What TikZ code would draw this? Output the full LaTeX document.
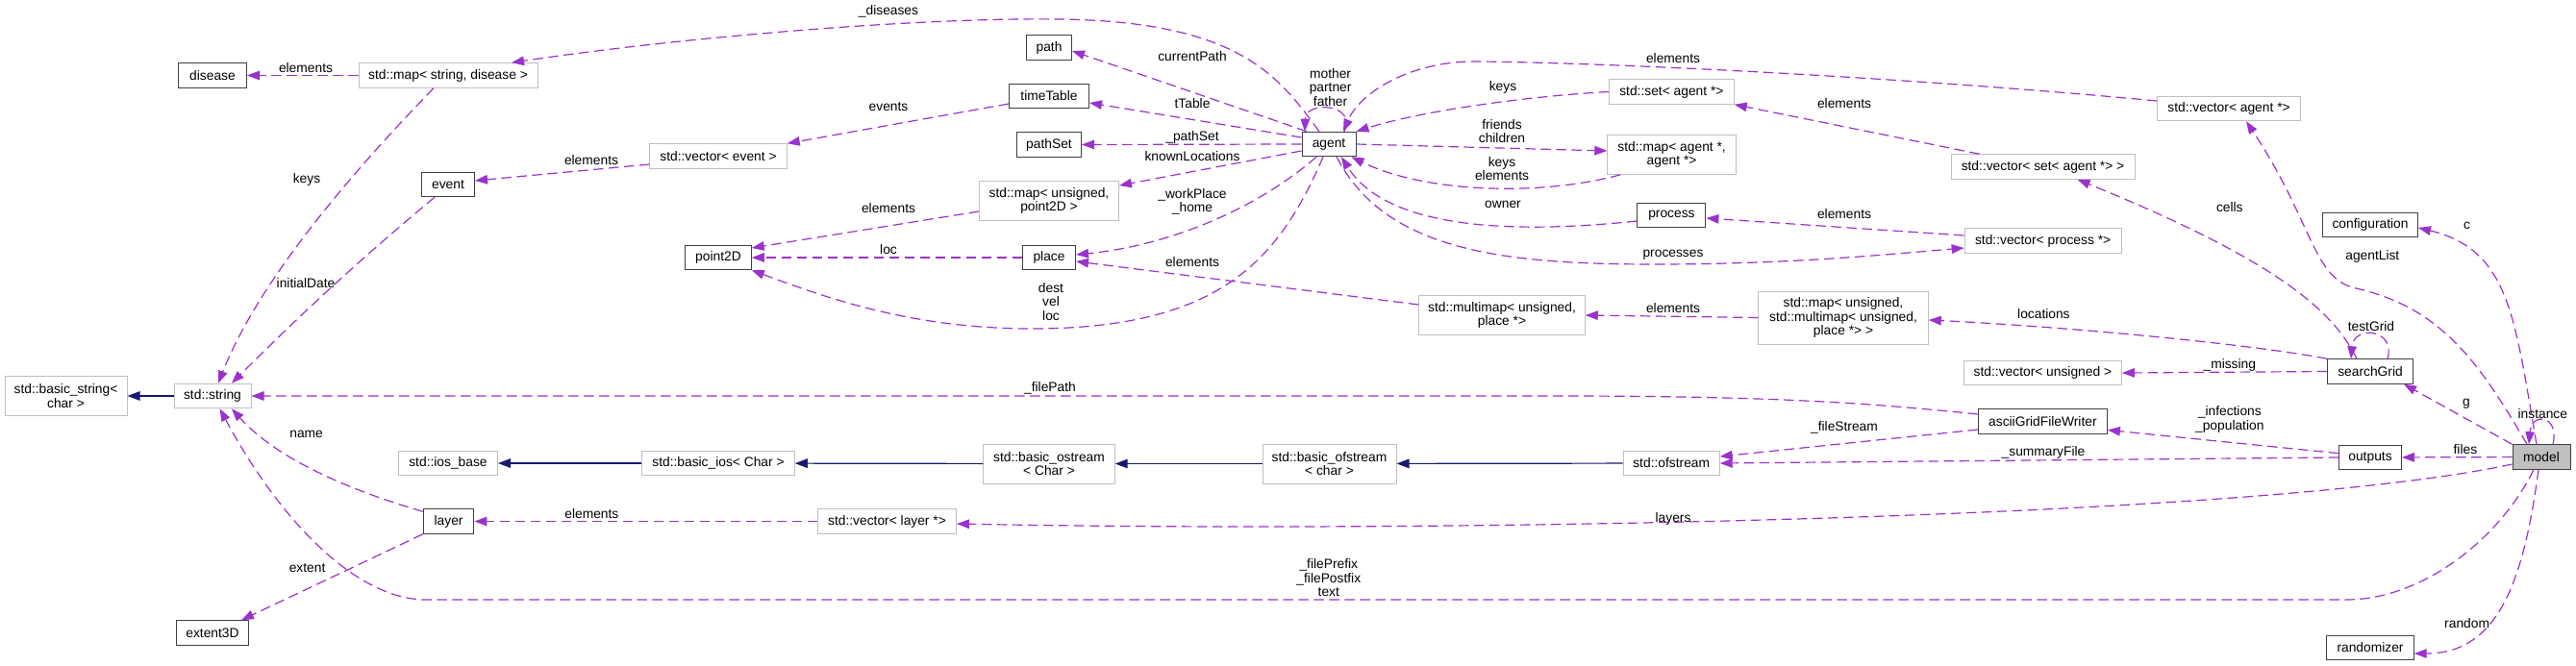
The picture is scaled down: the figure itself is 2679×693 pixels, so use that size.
\documentclass[tikz,border=0pt]{standalone}
\usepackage{fontspec}
\setmainfont{Liberation Sans}
\usetikzlibrary{arrows.meta}
\definecolor{edgepurple}{HTML}{9A32CD}
\definecolor{inhblue}{HTML}{191970}
\definecolor{boxgrey}{HTML}{BFBFBF}
\tikzset{
  box/.style={rectangle, fill=white, line width=1pt, minimum height=25.5pt, inner xsep=2pt, inner ysep=1pt, align=center, font=\fontsize{13.8}{14.5}\selectfont},
  cls/.style={box, draw=black!75},
  ext/.style={box, draw=boxgrey},
  cur/.style={cls, fill=boxgrey},
  dep/.style={draw=edgepurple, line width=1.2pt, dash pattern=on 10.5pt off 5.5pt, -{Triangle[length=13pt,width=9.5pt]}},
  inh/.style={draw=inhblue, line width=1.2pt, -{Triangle[length=13pt,width=9.5pt]}},
  lbl/.style={font=\fontsize{13.8}{14.5}\selectfont, align=center, inner sep=0pt}
}
\begin{document}
\begin{tikzpicture}[x=1pt, y=-1pt]
				\useasboundingbox (0,0) rectangle (2679,693);

				\node[cls, minimum width=71pt] (disease) at (221,78.5) {disease};
				\node[ext, minimum width=186pt] (mapSD) at (466,78.5) {std::map< string, disease >};
				\node[cls, minimum width=55pt] (event) at (466,192) {event};
				\node[ext, minimum width=127pt, minimum height=40.5pt] (basicString) at (68.5,412) {std::basic\_string<\\char >};
				\node[ext, minimum width=80pt] (string) at (221,412) {std::string};
				\node[ext, minimum width=103pt] (iosBase) at (466,482) {std::ios\_base};
				\node[cls, minimum width=52.5pt] (layer) at (466.6,542.5) {layer};
				\node[cls, minimum width=75pt] (extent) at (221,658.5) {extent3D};
				\node[cls, minimum width=47pt] (path) at (1091,49.5) {path};
				\node[cls, minimum width=83pt] (timeTable) at (1091,100) {timeTable};
				\node[cls, minimum width=67pt] (pathSet) at (1091,150.5) {pathSet};
				\node[ext, minimum width=142.5pt] (vecEvent) at (747,162.5) {std::vector< event >};
				\node[ext, minimum width=145pt, minimum height=40.5pt] (mapPoint) at (1091,209) {std::map< unsigned,\\point2D >};
				\node[cls, minimum width=68.5pt] (point) at (747,268) {point2D};
				\node[cls, minimum width=55pt] (place) at (1091,268) {place};
				\node[cls, minimum width=56pt] (agent) at (1382,150) {agent};
				\node[ext, minimum width=172.5pt, minimum height=40.5pt] (multimap) at (1562,328) {std::multimap< unsigned,\\place *>};
				\node[ext, minimum width=129.6pt] (setAgent) at (1738.4,95.5) {std::set< agent *>};
				\node[ext, minimum width=133.6pt, minimum height=40.5pt] (mapAgent) at (1738.6,161) {std::map< agent *,\\agent *>};
				\node[ext, minimum width=191pt] (vecSet) at (2124.5,173.5) {std::vector< set< agent *> >};
				\node[cls, minimum width=71pt] (process) at (1738.4,224) {process};
				\node[ext, minimum width=163pt] (vecProcess) at (2124.6,250.5) {std::vector< process *>};
				\node[ext, minimum width=176.5pt, minimum height=55pt] (mapLoc) at (1917,330.5) {std::map< unsigned,\\std::multimap< unsigned,\\place *> >};
				\node[ext, minimum width=164pt] (vecUnsigned) at (2124.4,388) {std::vector< unsigned >};
				\node[cls, minimum width=134pt] (writer) at (2124.4,438.5) {asciiGridFileWriter};
				\node[ext, minimum width=100pt] (ofstream) at (1738.2,482) {std::ofstream};
				\node[ext, minimum width=158.5pt] (basicIos) at (747,482) {std::basic\_ios< Char >};
				\node[ext, minimum width=136.4pt, minimum height=41pt] (basicOstream) at (1091,482.5) {std::basic\_ostream\\< Char >};
				\node[ext, minimum width=144pt] (vecLayer) at (922.5,542.5) {std::vector< layer *>};
				\node[ext, minimum width=139pt, minimum height=41pt] (basicOfstream) at (1382.5,482.5) {std::basic\_ofstream\\< char >};
				\node[ext, minimum width=149pt] (vecAgent) at (2318,113) {std::vector< agent *>};
				\node[cls, minimum width=99pt] (config) at (2465,234) {configuration};
				\node[cls, minimum width=89pt] (grid) at (2465,386.5) {searchGrid};
				\node[cls, minimum width=64.7pt] (outputs) at (2465,476) {outputs};
				\node[cur, minimum width=60pt] (model) at (2643,475.5) {model};
				\node[cls, minimum width=90.4pt] (random) at (2465,674) {randomizer};

				\draw[dep] (mapSD) -- (disease) node[lbl] (lbDisease) at (318,71) {elements};
				\draw[dep] ([xshift=-15pt]mapSD.south) .. controls (370,175) and (270,290) .. ([xshift=6pt]string.north) node[lbl] (lbKeys) at (319,187) {keys};
				\draw[dep] ([xshift=-14pt]event.south) .. controls (362,280) and (300,340) .. ([xshift=20pt]string.north) node[lbl] (lbDate) at (318,295) {initialDate};
				\draw[dep] ([xshift=-10pt]agent.north) .. controls (1330,80) and (1290,22) .. (1100,20) .. controls (950,18) and (700,40) .. ([xshift=66pt]mapSD.north) node[lbl] (lbDiseases) at (924,12) {\_diseases};
				\draw[dep] ([xshift=-23pt]agent.north) -- ([yshift=-3.5pt]path.east) node[lbl] (lbCurrent) at (1240,59) {currentPath};
				\draw[dep] ([yshift=7pt]agent.west) -- ([yshift=-7pt]timeTable.east) node[lbl] (lbTable) at (1240,108) {tTable};
				\draw[dep] (agent.west) -- (pathSet.east) node[lbl] (lbPathSet) at (1240,143) {\_pathSet};
				\draw[dep] ([yshift=-7pt]agent.west) -- ([yshift=16pt]mapPoint.east) node[lbl] (lbKnown) at (1240,163) {knownLocations};
				\draw[dep] ([xshift=-13pt]agent.south) .. controls (1310,215) and (1220,255) .. ([yshift=3pt]place.east) node[lbl] (lbWork) at (1240,210) {\_workPlace\\\_home};
				\draw[dep] ([xshift=-6pt]agent.south) .. controls (1330,270) and (1270,340) .. (1080,342) .. controls (950,343) and (860,310) .. (point.south east) node[lbl] (lbDest) at (1093,314) {dest\\vel\\loc};
				\draw[dep] ([xshift=16pt]agent.north) .. controls (1412,108) and (1358,104) .. ([xshift=-25pt]agent.north) node[lbl] (lbFamily) at (1383.6,91) {mother\\partner\\father};
				\draw[dep] ([yshift=-11pt]mapPoint.west) -- ([yshift=10pt]point.east) node[lbl] (lbPointElems) at (924,217) {elements};
				\draw[dep] (place) -- (point) node[lbl] (lbLoc) at (924,260) {loc};
				\draw[dep] ([yshift=-8pt]timeTable.west) -- (vecEvent.north east) node[lbl] (lbEvents) at (924,111) {events};
				\draw[dep] ([yshift=-8.5pt]vecEvent.west) -- ([yshift=4pt]event.east) node[lbl] (lbEventElems) at (615,167) {elements};
				\draw[dep] ([yshift=11pt]multimap.west) -- ([yshift=-4pt]place.east) node[lbl] (lbPlaceElems) at (1240,273) {elements};

				\draw[dep] ([yshift=8pt]vecAgent.west) .. controls (2000,82) and (1700,66) .. (1540,64) .. controls (1470,62) and (1415,95) .. ([xshift=15pt]agent.north) node[lbl] (lbAgentElems) at (1740,61) {elements};
				\draw[dep] (setAgent.west) .. controls (1590,100) and (1480,115) .. (agent.north east) node[lbl] (lbSetKeys) at (1563,91) {keys};
				\draw[dep] (agent.east) -- ([yshift=4pt]mapAgent.west) node[lbl] (lbFriends) at (1562,136.5) {friends\\children};
				\draw[dep] ([xshift=14pt]mapAgent.south west) .. controls (1600,205) and (1480,200) .. ([xshift=-5pt]agent.south east) node[lbl] (lbMapKeys) at (1562,175.5) {keys\\elements};
				\draw[dep] ([yshift=-6pt]process.west) .. controls (1560,245) and (1440,235) .. ([xshift=13pt]agent.south) node[lbl] (lbOwner) at (1563,213) {owner};
				\draw[dep] ([xshift=8pt]agent.south) .. controls (1440,260) and (1560,275) .. (1720,275) .. controls (1860,275) and (1960,265) .. ([yshift=-7.5pt]vecProcess.west) node[lbl] (lbProcesses) at (1740,265) {processes};
				\draw[dep] ([yshift=5.5pt]vecProcess.west) -- ([yshift=-3pt]process.east) node[lbl] (lbProcElems) at (1918,223) {elements};
				\draw[dep] ([xshift=30pt]vecSet.north west) -- (setAgent.south east) node[lbl] (lbSetElems) at (1918,108) {elements};
				\draw[dep] (mapLoc.west) -- (multimap.east) node[lbl] (lbMultiElems) at (1740,321) {elements};
				\draw[dep] (grid.north west) .. controls (2340,358) and (2150,340) .. ([yshift=-2.5pt]mapLoc.east) node[lbl] (lbLocations) at (2125.4,327) {locations};
				\draw[dep] ([xshift=-14pt]grid.north) .. controls (2425,320) and (2360,268) .. ([xshift=36pt]vecSet.south) node[lbl] (lbCells) at (2318.8,216) {cells};
				\draw[dep] ([xshift=18pt]grid.north) .. controls (2492,342) and (2448,338) .. ([xshift=-20pt]grid.north) node[lbl] (lbTestGrid) at (2465.9,340) {testGrid};
				\draw[dep] (grid.west) -- (vecUnsigned.east) node[lbl] (lbMissing) at (2318.8,380) {\_missing};

				\draw[dep] ([yshift=7.5pt]writer.west) .. controls (1950,420) and (1850,412) .. (1620,412) -- (string.east) node[lbl] (lbFilePath) at (1092,404) {\_filePath};
				\draw[dep] ([yshift=-8.5pt]writer.west) -- ([yshift=7pt]ofstream.east) node[lbl] (lbFileStream) at (1918,445) {\_fileStream};
				\draw[dep] ([yshift=4.3pt]outputs.west) -- ([yshift=4.3pt]writer.south east) node[lbl] (lbInfections) at (2318.8,436.5) {\_infections\\\_population};
				\draw[dep] (outputs.west) -- (ofstream.east) node[lbl] (lbSummary) at (2125,471) {\_summaryFile};
				\draw[dep] (model) -- (outputs) node[lbl] (lbFiles) at (2563.9,468) {files};
				\draw[dep] (model.north west) -- ([xshift=-10pt]grid.south east) node[lbl] (lbG) at (2565,420) {g};
				\draw[dep] ([xshift=-15pt]model.north) .. controls (2580,380) and (2540,320) .. (2450,300) .. controls (2405,290) and (2405,230) .. ([xshift=18pt]vecAgent.south) node[lbl] (lbAgentList) at (2467.3,267) {agentList};
				\draw[dep] ([xshift=-5pt]model.north) .. controls (2615,330) and (2610,260) .. ([yshift=-3pt]config.east) node[lbl] (lbC) at (2565.6,235) {c};
				\draw[dep] ([xshift=12pt]model.north) .. controls (2662,432) and (2633,428) .. ([xshift=-13pt]model.north) node[lbl] (lbInstance) at (2644.3,431) {instance};
				\draw[dep] ([yshift=-7.5pt]model.west) .. controls (2350,540) and (1500,555) .. ([yshift=-2.5pt]vecLayer.east) node[lbl] (lbLayers) at (1740,540) {layers};
				\draw[dep] ([xshift=-8pt]model.south) .. controls (2600,560) and (2520,624) .. (2440,624) -- (443,624) .. controls (370,624) and (290,540) .. ([xshift=7.6pt]string.south) node[lbl] (lbPrefix) at (1381.8,601.5) {\_filePrefix\\\_filePostfix\\text};
				\draw[dep] ([xshift=-3pt]model.south) .. controls (2625,600) and (2600,680) .. ([yshift=-6pt]random.east) node[lbl] (lbRandom) at (2565.6,649) {random};
				\draw[dep] (vecLayer) -- (layer) node[lbl] (lbLayerElems) at (615.4,535) {elements};
				\draw[dep] ([yshift=-3pt]layer.north west) .. controls (370,512) and (290,480) .. ([xshift=20pt]string.south) node[lbl] (lbName) at (318.6,452) {name};
				\draw[dep] (layer.south west) -- ([xshift=-8pt]extent.north east) node[lbl] (lbExtent) at (319.6,591) {extent};

				\draw[inh] (string) -- (basicString);
				\draw[inh] (basicIos) -- (iosBase);
				\draw[inh] (basicOstream) -- (basicIos);
				\draw[inh] (basicOfstream) -- (basicOstream);
				\draw[inh] (ofstream) -- (basicOfstream);

			\end{tikzpicture}
\end{document}
